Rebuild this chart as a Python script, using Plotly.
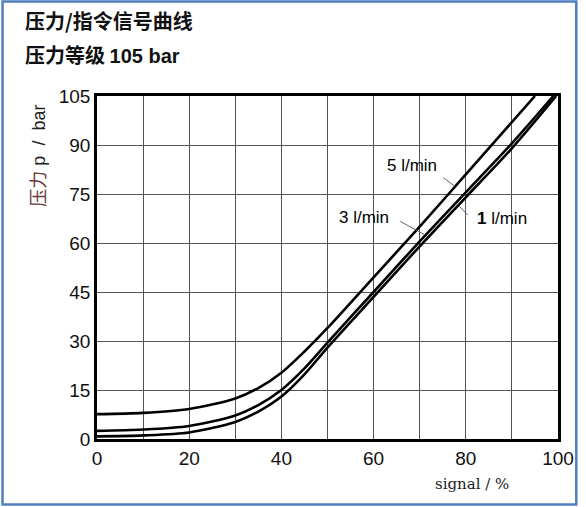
import plotly.graph_objects as go

# 读图估计的曲线数据
signal = [0, 10, 20, 30, 35, 40, 45, 50, 60, 70, 80, 90]
p_5lmin = [7.6, 8.0, 9.2, 12.4, 15.6, 20.3, 26.8, 34.0, 49.5, 65.0, 81.0, 97.0]
p_3lmin = [2.5, 2.9, 4.0, 7.2, 10.4, 15.0, 21.6, 29.5, 45.0, 60.5, 75.5, 90.5]
p_1lmin = [0.8, 1.1, 2.0, 5.2, 8.4, 13.0, 19.8, 28.0, 43.5, 59.0, 74.0, 89.0]
end_5 = (95.0, 105.0)
end_3 = (99.0, 105.0)
end_1 = (99.6, 105.0)

x_ticks = [0, 20, 40, 60, 80, 100]
y_ticks = [0, 15, 30, 45, 60, 75, 90, 105]

labels = ["5 l/min", "3 l/min", "1 l/min"]

W, H = 586, 507
L, R, T, B = 97, 23, 96, 68
PW, PH = W - L - R, H - T - B

fig = go.Figure()
for xs, ys, end in [(signal, p_5lmin, end_5), (signal, p_3lmin, end_3), (signal, p_1lmin, end_1)]:
    fig.add_trace(go.Scatter(x=xs + [end[0]], y=ys + [end[1]], mode="lines",
                             line=dict(color="black", width=2.6, shape="spline", smoothing=0.8),
                             showlegend=False, hoverinfo="skip"))

lab_font = dict(family="Liberation Sans, Arial", size=17, color="black")
# 曲线标注 + 引线
fig.add_annotation(x=68.3, y=83.8, text=labels[0], showarrow=False, font=lab_font)
fig.add_annotation(x=58.0, y=67.9, text=labels[1], showarrow=False, font=lab_font)
fig.add_annotation(x=87.8, y=67.6, text="<b>1</b> l/min", showarrow=False, font=lab_font)
leaders = [((75.1, 80.0), (77.6, 77.4)),
           ((65.8, 66.6), (71.0, 62.6)),
           ((80.4, 68.6), (78.6, 71.2))]
for (x0, y0), (x1, y1) in leaders:
    fig.add_shape(type="line", x0=x0, y0=y0, x1=x1, y1=y1,
                  line=dict(color="#666666", width=1))

# 标题
fig.add_annotation(xref="paper", yref="paper", x=-75 / PW, y=1 + 76 / PH,
                   xanchor="left", yanchor="middle", showarrow=False,
                   text="<b>压力/指令信号曲线</b>",
                   font=dict(family="Noto Sans CJK SC", size=20, color="#111111"))
fig.add_annotation(xref="paper", yref="paper", x=-75 / PW, y=1 + 41 / PH,
                   xanchor="left", yanchor="middle", showarrow=False,
                   text="<b>压力等级 <span style='font-family:Liberation Sans'>105 bar</span></b>",
                   font=dict(family="Noto Sans CJK SC", size=20, color="#111111"))

# 轴标题
fig.add_annotation(xref="paper", yref="paper", x=-59 / PW, y=1 - 60 / PH,
                   xanchor="center", yanchor="middle", showarrow=False, textangle=-90,
                   text="<span style='color:#6b3a3a'>压力</span> p  /  bar",
                   font=dict(family="Liberation Sans, Noto Sans CJK SC", size=18, color="#222222"))
fig.add_annotation(xref="paper", yref="paper", x=(476 - L) / PW, y=-(484 - 439) / PH,
                   xanchor="center", yanchor="middle", showarrow=False,
                   text="signal / %",
                   font=dict(family="DejaVu Serif", size=15, color="#222222"))

# 蓝色外框
fig.add_shape(type="rect", xref="paper", yref="paper",
              x0=-(L - 1.5) / PW, x1=1 + (581.5 - (W - R)) / PW,
              y0=-(504.5 - (H - B)) / PH, y1=1 + (T - 1.5) / PH,
              line=dict(color="#4f7fbf", width=2.5), layer="above")

grid = dict(showgrid=True, gridcolor="#555555", gridwidth=1)
fig.update_xaxes(range=[0, 100], tickvals=x_ticks, ticks="", **grid,
                 minor=dict(dtick=10, showgrid=True, gridcolor="#555555", gridwidth=1),
                 showline=True, linecolor="black", linewidth=2.6, mirror=True,
                 zeroline=False, tickfont=dict(family="Liberation Sans, Arial", size=19, color="#111111"))
fig.update_yaxes(range=[0, 105], tickvals=y_ticks, ticks="", **grid,
                 showline=True, linecolor="black", linewidth=2.6, mirror=True,
                 zeroline=False, tickfont=dict(family="Liberation Sans, Arial", size=19, color="#111111"))

fig.update_layout(width=W, height=H, autosize=False, margin=dict(l=L, r=R, t=T, b=B),
                  plot_bgcolor="white", paper_bgcolor="white")
# 去掉页面默认边距和滚动条
fig.write_html("out.html", config={"displayModeBar": False, "responsive": False},
               post_script="document.body.style.margin='0';"
                           "document.body.style.overflow='hidden';"
                           "document.documentElement.style.overflow='hidden';")
